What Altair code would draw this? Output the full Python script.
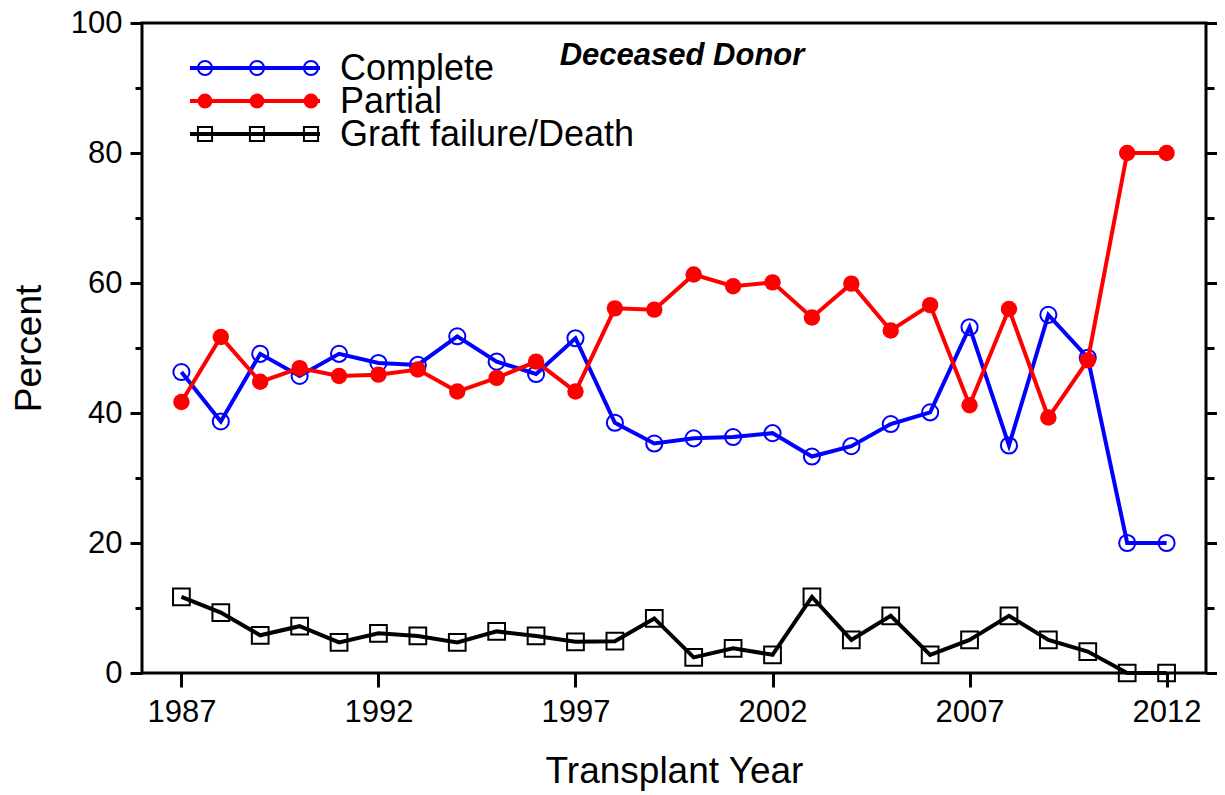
import altair as alt
import pandas as pd

# ---------------- data ----------------
years = list(range(1987, 2013))
complete = [46.3, 38.7, 49.1, 45.7, 49.1, 47.7, 47.4, 51.8, 47.9, 46.0, 51.5, 38.5, 35.3,
            36.1, 36.3, 36.9, 33.3, 34.9, 38.3, 40.1, 53.2, 35.0, 55.1, 48.5, 20.0, 20.0]
partial = [41.7, 51.7, 44.8, 46.9, 45.7, 45.9, 46.7, 43.3, 45.4, 47.9, 43.3, 56.1, 55.9,
           61.3, 59.5, 60.1, 54.7, 59.9, 52.7, 56.6, 41.2, 56.0, 39.3, 48.1, 80.0, 80.0]
graft = [11.7, 9.3, 5.8, 7.2, 4.7, 6.1, 5.7, 4.7, 6.4, 5.7, 4.8, 4.9, 8.4,
         2.4, 3.8, 2.8, 11.7, 5.1, 8.8, 2.8, 5.1, 8.8, 5.1, 3.3, 0.0, 0.0]

series_names = ["Complete", "Partial", "Graft failure/Death"]
series_colors = ["#0000ff", "#ff0000", "#000000"]
x_ticks = [1987, 1992, 1997, 2002, 2007, 2012]
y_major = [0, 20, 40, 60, 80, 100]
y_minor = [10, 30, 50, 70, 90]
panel_title = "Deceased Donor"

FONT = "Liberation Sans"
W, H = 1064, 650

df_c = pd.DataFrame({"year": years, "value": complete})
df_p = pd.DataFrame({"year": years, "value": partial})
df_g = pd.DataFrame({"year": years, "value": graft})

xscale = alt.Scale(domain=[1986, 2013], nice=False, zero=False)
yscale = alt.Scale(domain=[0, 100], nice=False, zero=True)


def x_axis():
    return alt.Axis(values=x_ticks, format="d", tickSize=14, tickWidth=3, labelFontSize=31,
                    labelPadding=10, title="Transplant Year", titleFontSize=37,
                    titleFontWeight="normal", titlePadding=26, domain=False, orient="bottom")


def X():
    return alt.X("year:Q", scale=xscale, axis=x_axis())


def Y(axis=None):
    return alt.Y("value:Q", scale=yscale, axis=axis)


ax_left_major = alt.Axis(orient="left", values=y_major, tickSize=12, tickWidth=3,
                         labelFontSize=31, labelPadding=8, title="Percent",
                         titleFontSize=37, titleFontWeight="normal", titlePadding=22,
                         domain=False)
ax_left_minor = alt.Axis(orient="left", values=y_minor, tickSize=7, tickWidth=3,
                         labels=False, title=None, domain=False)
ax_right_major = alt.Axis(orient="right", values=y_major, tickSize=14, tickWidth=3,
                          labels=False, title=None, domain=False)
ax_right_minor = alt.Axis(orient="right", values=y_minor, tickSize=8, tickWidth=3,
                          labels=False, title=None, domain=False)

LW = 4
blue_line = alt.Chart(df_c).mark_line(color=series_colors[0], strokeWidth=LW).encode(
    x=X(), y=Y(ax_left_major))
blue_pts = alt.Chart(df_c).mark_point(shape="circle", filled=False, size=260,
                                      color=series_colors[0], strokeWidth=2, opacity=1).encode(
    x=X(), y=Y())
red_line = alt.Chart(df_p).mark_line(color=series_colors[1], strokeWidth=LW).encode(
    x=X(), y=Y(ax_left_minor))
red_pts = alt.Chart(df_p).mark_point(shape="circle", filled=True, size=270,
                                     color=series_colors[1], opacity=1).encode(
    x=X(), y=Y())
black_line = alt.Chart(df_g).mark_line(color=series_colors[2], strokeWidth=LW).encode(
    x=X(), y=Y(ax_right_major))
black_pts = alt.Chart(df_g).mark_point(shape="square", filled=False, size=280,
                                       color=series_colors[2], strokeWidth=2, opacity=1).encode(
    x=X(), y=Y(ax_right_minor))

# ---------------- legend (drawn in pixel space) ----------------
one = pd.DataFrame({"k": [0]})
legend_layers = []
row_y = [45, 78, 111]
marker_x = [63, 115, 169]
shapes = [("circle", False, 200), ("circle", True, 220), ("square", False, 200)]
for i, name in enumerate(series_names):
    col = series_colors[i]
    legend_layers.append(
        alt.Chart(one).mark_rule(color=col, strokeWidth=LW).encode(
            x=alt.value(48), x2=alt.value(178), y=alt.value(row_y[i])))
    shp, fil, sz = shapes[i]
    for mx in marker_x:
        legend_layers.append(
            alt.Chart(one).mark_point(shape=shp, filled=fil, size=sz, color=col,
                                      strokeWidth=2, opacity=1).encode(
                x=alt.value(mx), y=alt.value(row_y[i])))
    legend_layers.append(
        alt.Chart(one).mark_text(text=name, font=FONT, fontSize=36, align="left",
                                 baseline="middle", color="black").encode(
            x=alt.value(198), y=alt.value(row_y[i] + 1)))

title_layer = alt.Chart(one).mark_text(text=panel_title, font=FONT, fontSize=31,
                                       fontStyle="italic", fontWeight="bold",
                                       align="center", baseline="middle",
                                       color="black").encode(
    x=alt.value(540), y=alt.value(33))

chart = alt.layer(
    blue_line, blue_pts, red_line, red_pts, black_line, black_pts,
    *legend_layers, title_layer
).resolve_axis(y="independent").resolve_scale(y="shared").properties(
    width=W, height=H,
    autosize=alt.AutoSizeParams(type="none"),
    padding={"left": 134, "top": 15, "right": 11, "bottom": 120},
).configure_view(stroke="black", strokeWidth=3).configure_axis(
    grid=False, labelFont=FONT, titleFont=FONT, labelColor="black", titleColor="black",
    tickColor="black"
)

chart.save("out.html", embed_options={"renderer": "svg", "actions": False})
